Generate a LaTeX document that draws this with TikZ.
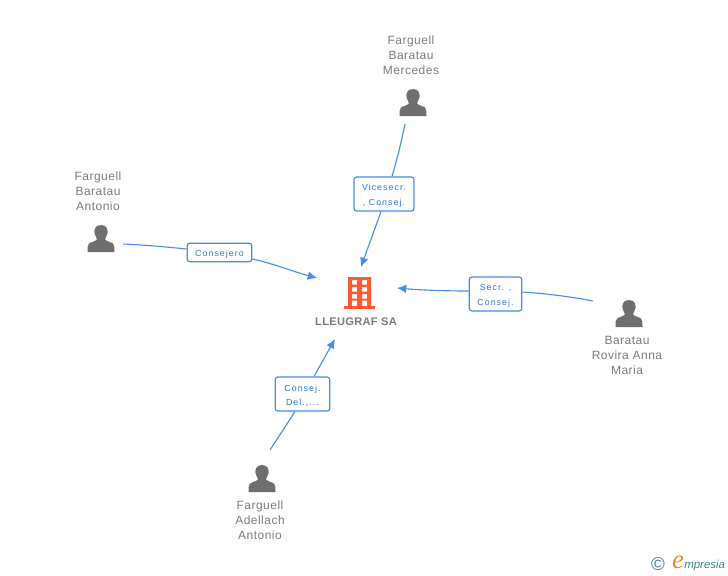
\documentclass[tikz,border=0pt]{standalone}
\usepackage{fontspec}
\setmainfont{Liberation Sans}
\newfontfamily\logofont{Liberation Serif}
\usetikzlibrary{arrows.meta}
\definecolor{linkblue}{HTML}{4A8BE8}
\definecolor{labelblue}{HTML}{2F74D8}
\definecolor{icongray}{HTML}{6E6E6E}
\definecolor{namegray}{HTML}{7A7A7A}
\definecolor{bldorange}{HTML}{FF5A30}
\definecolor{logoteal}{HTML}{3F7F96}
\definecolor{logoorange}{HTML}{F08A1D}
\newcommand{\rolestrut}{\rule{0pt}{7.6pt}}
\tikzset{
  x=0.75pt,y=-0.75pt,
  personname/.style={align=center,text=namegray,font=\fontsize{9}{11.3}\selectfont\addfontfeature{LetterSpace=4},inner sep=0pt},
  rolebox/.style={draw=linkblue,line width=0.9pt,rounded corners=2pt,fill=white,align=center,text=labelblue,inner sep=0pt,font=\fontsize{6.6}{11.2}\selectfont\addfontfeature{LetterSpace=12}},
  link/.style={draw=linkblue,line width=0.85pt},
  linkarrow/.style={link,-{Latex[length=7pt,width=6.5pt]}},
  anchorpt/.style={inner sep=0pt,minimum size=0pt},
  person/.pic={
    \fill[icongray] (0,-14) .. controls (-6,-14) and (-7,-9) .. (-6.5,-6) .. controls (-6,-3) and (-4.5,-1.5) .. (-4,0)
      .. controls (-4,2) and (-10,3) .. (-12,4.5) .. controls (-13.5,6) and (-13.5,9) .. (-13.5,13)
      -- (13.5,13) .. controls (13.5,9) and (13.5,6) .. (12,4.5) .. controls (10,3) and (4,2) .. (4,0)
      .. controls (4.5,-1.5) and (6,-3) .. (6.5,-6) .. controls (7,-9) and (6,-14) .. (0,-14) -- cycle;
  },
}
\begin{document}
\begin{tikzpicture}
\useasboundingbox (0,0) rectangle (728,575);
% people
\path (413,103) pic {person};
\node[anchorpt] (mercedes) at (405,124) {};
\node[personname] (mercedesname) at (411,55) {Farguell\\Baratau\\Mercedes};
\path (101,239) pic {person};
\node[anchorpt] (antonio) at (123,244) {};
\node[personname] (antonioname) at (98,191) {Farguell\\Baratau\\Antonio};
\path (629,314) pic {person};
\node[anchorpt] (baratau) at (593,301) {};
\node[personname] (barataumname) at (627,355.5) {Baratau\\Rovira Anna\\Maria};
\path (262,479) pic {person};
\node[anchorpt] (adellach) at (270,450) {};
\node[personname] (adellachname) at (260,520.5) {Farguell\\Adellach\\Antonio};
% building
\fill[bldorange,even odd rule] (348,277) rectangle (371,306)
  (352,280) rectangle (357,284.5) (362,280) rectangle (367,284.5)
  (352,287) rectangle (357,291.5) (362,287) rectangle (367,291.5)
  (352,294) rectangle (357,298.5) (362,294) rectangle (367,298.5)
  (352,300.5) rectangle (357,306) (362,300.5) rectangle (367,306);
\fill[bldorange] (343.5,306) rectangle (375,309);
\node[anchorpt] (company) at (360,292) {};
\node[inner sep=0pt,text=namegray,font=\fontsize{8.3}{10}\selectfont\bfseries\addfontfeature{LetterSpace=3}] (companyname) at (356,322) {LLEUGRAF SA};
% arrow ends
\coordinate (endtop) at (361,267);
\coordinate (endleft) at (317,278);
\coordinate (endright) at (397,288);
\coordinate (endbottom) at (335,339);
% role boxes
\node[rolebox,minimum width=45pt,minimum height=25.5pt] (r1) at (384,194) {\rolestrut Vicesecr.\\, Consej.};
\node[rolebox,minimum width=48.5pt,minimum height=14pt] (r2) at (219.5,252.5) {\rolestrut Consejero};
\node[rolebox,minimum width=39.5pt,minimum height=25.5pt] (r3) at (495.5,294) {\rolestrut Secr. ,\\Consej.};
\node[rolebox,minimum width=41pt,minimum height=25.5pt] (r4) at (302.5,394) {\rolestrut Consej.\\Del.,...};
% connectors
\draw[link] (mercedes) .. controls (401,143) and (397,160) .. (r1.north -| 392,0);
\draw[linkarrow] (r1.south -| 381,0) -- (endtop);
\draw[link] (antonio) .. controls (145,245) and (167,247) .. (r2.west |- 0,249);
\draw[linkarrow] (r2.east |- 0,259) .. controls (275,264) and (296,272.5) .. (endleft);
\draw[link] (baratau) .. controls (570,296.5) and (545,293.5) .. (r3.east |- 0,292);
\draw[linkarrow] (r3.west |- 0,291) .. controls (445,291) and (420,290) .. (endright);
\draw[link] (adellach) -- (r4.south -| 295,0);
\draw[linkarrow] (r4.north -| 314,0) -- (endbottom);
% logo
\node[inner sep=0pt,text=logoteal,font=\fontsize{14}{14}\selectfont] (copyright) at (658,564) {©};
\node[inner sep=0pt,text=logoorange,font=\logofont\itshape\fontsize{20}{20}\selectfont] (logoe) at (678,562) {e};
\node[inner sep=0pt,anchor=base west,text=logoteal,font=\fontsize{8.6}{10}\selectfont\itshape] (logotext) at (684,568) {mpresia};
\end{tikzpicture}
\end{document}
